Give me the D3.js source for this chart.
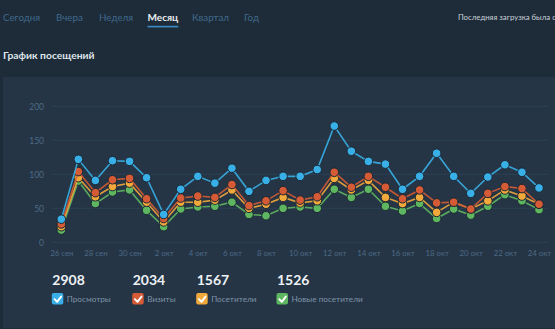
<!DOCTYPE html>
<html><head><meta charset="utf-8">
<script src="https://cdn.jsdelivr.net/npm/d3@7"></script>
<style>
html,body{margin:0;padding:0;background:#1e2b38;overflow:hidden}
svg{display:block;font-family:Lato,"Open Sans",sans-serif}
</style></head>
<body><svg id="c" width="555" height="329"></svg>
<script>
const tabs = ["Сегодня","Вчера","Неделя","Месяц","Квартал","Год"];
const tabX = [3,56,99,147.5,192,244];
const activeTab = "Месяц";
const days = ["26 сен","27 сен","28 сен","29 сен","30 сен","1 окт","2 окт","3 окт","4 окт","5 окт","6 окт","7 окт","8 окт","9 окт","10 окт","11 окт","12 окт","13 окт","14 окт","15 окт","16 окт","17 окт","18 окт","19 окт","20 окт","21 окт","22 окт","23 окт","24 окт"];
const tickLabels = ["26 сен","28 сен","30 сен","2 окт","4 окт","6 окт","8 окт","10 окт","12 окт","14 окт","16 окт","18 окт","20 окт","22 окт","24 окт"];
const yTicks = [0,50,100,150,200];
const views    = [34,122,91,120,119,95,41,78,97,87,109,75,91,97,97,107,171,134,119,115,78,97,131,97,72,96,114,103,80];
const visits   = [27,104,73,92,94,64,35,65,68,66,85,54,61,76,62,67,103,81,97,81,64,77,58,59,49,72,82,79,56];
const visitors = [23,95,67,82,87,59,30,59,59,62,77,50,56,66,58,61,94,77,91,66,57,66,44,59,49,61,77,68,56];
const newVis   = [18,90,57,74,77,47,23,49,52,53,59,41,39,50,52,50,78,66,78,53,46,57,35,49,40,53,70,61,48];
const seriesNames = ["Просмотры","Визиты","Посетители","Новые посетители"];
const totals = [2908,2034,1567,1526];
const colors = ["#38afe6","#d45b35","#f2a93b","#5fb660"];

const svg = d3.select("#c");
// panel
svg.append("rect").attr("x",3).attr("y",77).attr("width",552).attr("height",251).attr("fill","#253545");
// tabs
tabs.forEach((t,i)=>{
  const a = t===activeTab;
  const tx = svg.append("text").attr("x",tabX[i]).attr("y",20.5).text(t)
    .attr("font-size",a?10:9.8).attr("fill",a?"#e8edf1":"#3f6a8c").attr("font-weight",a?"bold":"normal");
  if(a){
    const w = tx.node().getComputedTextLength();
    svg.append("rect").attr("x",tabX[i]).attr("y",25.8).attr("width",w).attr("height",1.6).attr("fill","#3a8cc6");
  }
});
svg.append("text").attr("x",458).attr("y",19.5).text("Последняя загрузка была с")
  .attr("font-size",7.8).attr("fill","#c9d2da");
svg.append("text").attr("x",3).attr("y",59).text("График посещений")
  .attr("font-size",10.3).attr("font-weight","bold").attr("fill","#dfe6ec");

const y = d3.scaleLinear().domain([0,200]).range([242.3,106.3]);
const x = d3.scalePoint().domain(days).range([61.3,539]);

// grid
svg.append("g").selectAll("line").data(yTicks).join("line")
  .attr("x1",52).attr("x2",548).attr("y1",d=>y(d)).attr("y2",d=>y(d))
  .attr("stroke","#2c4256").attr("stroke-width",1);
// y axis labels
const ya = svg.append("g").attr("transform","translate(44,0)")
  .call(d3.axisLeft(y).tickValues(yTicks).tickSize(0).tickPadding(0));
ya.select(".domain").remove();
ya.selectAll("text").attr("fill","#4c6a86").attr("font-size",8.5).attr("font-family","Lato,sans-serif");
// x axis labels
const xa = svg.append("g").attr("transform","translate(0,250.5)")
  .call(d3.axisBottom(x).tickValues(tickLabels).tickSize(0).tickPadding(0));
xa.select(".domain").remove();
xa.selectAll("text").attr("fill","#4c6a86").attr("font-size",7.8).attr("font-family","Lato,sans-serif");

const data = [views,visits,visitors,newVis];
const line = d3.line().x((d,i)=>x(days[i])).y(d=>y(d));
for(let s=data.length-1;s>=0;s--){
  const g = svg.append("g");
  g.append("path").datum(data[s]).attr("d",line).attr("fill","none")
    .attr("stroke",colors[s]).attr("stroke-width",1.6).attr("opacity",0.9);
  g.selectAll("circle").data(data[s]).join("circle")
    .attr("cx",(d,i)=>x(days[i])).attr("cy",d=>y(d)).attr("r",4.3)
    .attr("fill",colors[s]).attr("stroke","#1b2733").attr("stroke-width",1);
}

// legend
const numX = [52.3,132.7,196.7,277];
totals.forEach((t,i)=>{
  svg.append("text").attr("x",numX[i]).attr("y",285).text(t)
    .attr("font-size",14).attr("font-weight","bold").attr("fill","#eef2f5");
  const bx = numX[i]-0.5;
  svg.append("rect").attr("x",bx).attr("y",293).attr("width",11.5).attr("height",11.5).attr("rx",2)
    .attr("fill",colors[i]);
  svg.append("path").attr("d",`M${bx+2.7},${299.2} l2.6,2.6 l4,-5.2`)
    .attr("fill","none").attr("stroke","#fff").attr("stroke-width",1.9).attr("stroke-linecap","round").attr("stroke-linejoin","round");
  svg.append("text").attr("x",bx+15).attr("y",302.3).text(seriesNames[i])
    .attr("font-size",8.2).attr("fill","#7f94a8");
});
</script></body></html>
